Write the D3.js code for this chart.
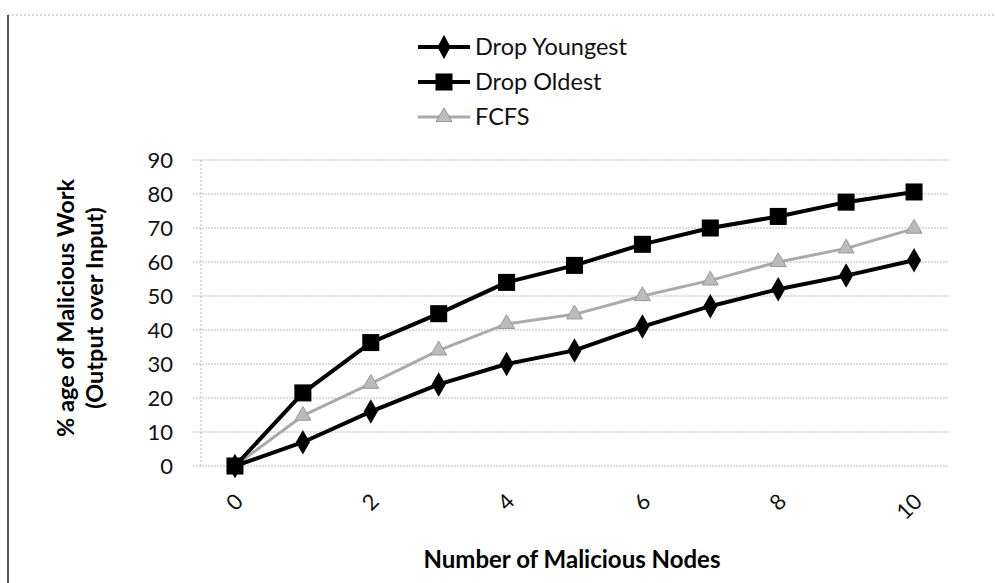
<!DOCTYPE html>
<html>
<head>
<meta charset="utf-8">
<script src="https://cdn.jsdelivr.net/npm/d3@7"></script>
<style>
  body { margin: 0; background: #fff; }
  svg { font-family: Lato, "Open Sans", sans-serif; }
</style>
</head>
<body>
<div id="chart"></div>
<script>
// data
var nodes = [0, 1, 2, 3, 4, 5, 6, 7, 8, 9, 10];
var xTickLabels = [0, 2, 4, 6, 8, 10];
var yTicks = [0, 10, 20, 30, 40, 50, 60, 70, 80, 90];
var dropYoungest = [0, 7, 16, 24, 30, 34, 41, 47, 52, 56, 60.5];
var dropOldest = [0, 21.5, 36.3, 44.8, 54, 59, 65.2, 70, 73.4, 77.6, 80.6];
var fcfs = [0, 14.8, 24.2, 34, 41.8, 44.6, 50, 54.6, 60, 64, 69.8];
var seriesNames = ["Drop Youngest", "Drop Oldest", "FCFS"];

var svgWidth = 995, svgHeight = 583;
var plot = { left: 201, right: 948, top: 160, bottom: 466 };

var svg = d3.select("#chart").append("svg")
    .attr("width", svgWidth)
    .attr("height", svgHeight);

// scanned border of the original chart
svg.append("line").attr("x1", 8).attr("x2", 995).attr("y1", 15).attr("y2", 15)
    .attr("stroke", "#aaa").attr("stroke-width", 1).attr("stroke-dasharray", "2,2");
svg.append("line").attr("x1", 8).attr("x2", 8).attr("y1", 15).attr("y2", 583)
    .attr("stroke", "#555").attr("stroke-width", 2);

var x = d3.scalePoint().domain(nodes).range([plot.left, plot.right]).padding(0.5);
var y = d3.scaleLinear().domain([0, 90]).range([plot.bottom, plot.top]);

// gridlines
svg.append("g").selectAll("line").data(yTicks).enter().append("line")
    .attr("x1", plot.left - 8).attr("x2", plot.right)
    .attr("y1", d => y(d)).attr("y2", d => y(d))
    .attr("stroke", "#bbb").attr("stroke-width", 1).attr("stroke-dasharray", "2,1");
svg.append("line").attr("x1", plot.left).attr("x2", plot.left)
    .attr("y1", plot.top).attr("y2", plot.bottom)
    .attr("stroke", "#bbb").attr("stroke-dasharray", "2,2");

// y axis labels
var yAxis = d3.axisLeft(y).tickValues(yTicks).tickSize(0).tickPadding(28);
var yg = svg.append("g").attr("transform", `translate(${plot.left},0)`).call(yAxis);
yg.select(".domain").remove();
yg.selectAll("text").attr("font-size", 22).attr("fill", "#111").attr("font-family", "Lato, sans-serif");

// x axis labels, rotated
var xAxis = d3.axisBottom(x).tickValues(xTickLabels).tickSize(0).tickPadding(0);
var xg = svg.append("g").attr("transform", `translate(0,${plot.bottom})`).call(xAxis);
xg.select(".domain").remove();
xg.selectAll("text")
    .attr("font-size", 22).attr("fill", "#111").attr("font-family", "Lato, sans-serif")
    .attr("text-anchor", "end")
    .attr("dy", 0)
    .attr("transform", "translate(9,37) rotate(-45)");

// axis titles
svg.append("text")
    .attr("transform", "translate(74,308) rotate(-90)")
    .attr("text-anchor", "middle").attr("font-weight", "bold").attr("font-size", 23.5)
    .text("% age of Malicious Work");
svg.append("text")
    .attr("transform", "translate(103,308) rotate(-90)")
    .attr("text-anchor", "middle").attr("font-weight", "bold").attr("font-size", 23.5)
    .text("(Output over Input)");
svg.append("text")
    .attr("x", 572).attr("y", 568)
    .attr("text-anchor", "middle").attr("font-weight", "bold").attr("font-size", 24)
    .text("Number of Malicious Nodes");

var line = d3.line().x((d, i) => x(nodes[i])).y(d => y(d));

var styles = [
    { data: dropYoungest, color: "#000", width: 4, symbol: d3.symbolDiamond, size: 120, fill: "#000" },
    { data: dropOldest, color: "#000", width: 4, symbol: d3.symbolSquare, size: 290, fill: "#000" },
    { data: fcfs, color: "#aaa", width: 3, symbol: d3.symbolTriangle, size: 110, fill: "#bbb" }
];

// draw FCFS first so black lines sit above it
[2, 0, 1].forEach(function(k) {
    var s = styles[k];
    svg.append("path").datum(s.data)
        .attr("d", line)
        .attr("fill", "none")
        .attr("stroke", s.color)
        .attr("stroke-width", s.width)
        .attr("stroke-linejoin", "round");
    svg.append("g").selectAll("path").data(s.data).enter().append("path")
        .attr("d", d3.symbol().type(s.symbol).size(s.size))
        .attr("transform", (d, i) => `translate(${x(nodes[i])},${y(d)})` + (s.symbol === d3.symbolDiamond ? " scale(1.2,1.2)" : ""))
        .attr("fill", s.fill)
        .attr("stroke", k === 2 ? "#999" : "none")
        .attr("stroke-width", 1);
});

// legend
var legend = svg.append("g");
seriesNames.forEach(function(name, i) {
    var s = styles[i];
    var ly = 47 + i * 35;
    legend.append("line").attr("x1", 418).attr("x2", 470).attr("y1", ly).attr("y2", ly)
        .attr("stroke", s.color).attr("stroke-width", s.width);
    legend.append("path")
        .attr("d", d3.symbol().type(s.symbol).size(s.size))
        .attr("transform", `translate(444,${ly})` + (s.symbol === d3.symbolDiamond ? " scale(1.1,1.2)" : ""))
        .attr("fill", s.fill)
        .attr("stroke", i === 2 ? "#999" : "none");
    legend.append("text").attr("x", 475).attr("y", ly + 8)
        .attr("font-size", 23.5).attr("fill", "#111")
        .text(name);
});
</script>
</body>
</html>
